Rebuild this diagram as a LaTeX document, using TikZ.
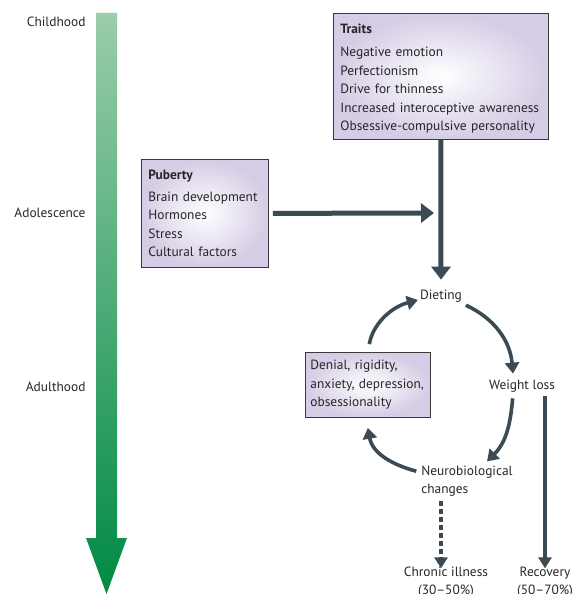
\documentclass[tikz,border=0pt]{standalone}
\usepackage{fontspec}
\setmainfont{PT Sans}
\usetikzlibrary{arrows.meta,positioning}
\definecolor{CycleArrow}{HTML}{3B4A53}
\definecolor{BoxEdge}{HTML}{3A3A3A}
\definecolor{BoxFill}{HTML}{D5CCE5}
\definecolor{AgeTop}{HTML}{9ACDAB}
\definecolor{AgeBottom}{HTML}{008A44}
\definecolor{AgeText}{HTML}{262626}

\begin{document}
\begin{tikzpicture}[x=1pt,y=-1pt,
  font=\fontsize{13.4}{18.5}\selectfont,
  factor/.style={draw=BoxEdge,line width=.8pt,inner color=white,outer color=BoxFill,
    text=AgeText,align=left,anchor=north west,inner xsep=7pt,inner ysep=6pt},
  stage/.style={anchor=east,text=AgeText},
  cycletext/.style={text=AgeText,align=left,inner sep=2pt},
  flow/.style={-{Triangle[length=13pt,width=19pt]},draw=CycleArrow,line width=5pt},
  turn/.style={-{Triangle[length=11pt,width=14pt]},draw=CycleArrow,line width=3.6pt},
  outcome/.style={-{Triangle[length=11pt,width=13pt]},draw=CycleArrow,line width=3.6pt}
]
\clip (0,0) rectangle (577,594);

% age axis
\shade[top color=AgeTop,bottom color=AgeBottom]
  (96,13) -- (117,13) -- (117,538) -- (127,538) -- (106.5,594) -- (86,538) -- (96,538) -- cycle;
\node[stage] (childhood) at (89,22) {Childhood};
\node[stage] (adolescence) at (89,213) {Adolescence};
\node[stage] (adulthood) at (89,387) {Adulthood};

% risk boxes
\node[factor,minimum width=215pt,minimum height=124pt,text width=201pt] (traits) at (333,13)
  {\rule{0pt}{14pt}\textbf{Traits}\\[5pt]
   Negative emotion\\
   Perfectionism\\
   Drive for thinness\\
   Increased interoceptive awareness\\
   Obsessive-compulsive personality};
\node[factor,minimum width=127pt,minimum height=108pt,text width=113pt] (puberty) at (141,159)
  {\textbf{Puberty}\\[3pt]
   Brain development\\
   Hormones\\
   Stress\\
   Cultural factors};
\coordinate (merge) at (434,213);

% the cycle
\node[cycletext] (dieting) at (441,296) {Dieting};
\node[cycletext] (weightloss) at (522,386) {Weight loss};
\node[cycletext] (neuro) at (467,481) {Neurobiological\\changes};
\node[factor,minimum width=125pt,minimum height=65pt,text width=115pt,inner xsep=5pt] (denial) at (305,352)
  {Denial, rigidity,\\anxiety, depression,\\obsessionality};

% outcomes
\node[cycletext,align=center] (chronic) at (446,582) {Chronic illness\\(30--50\%)};
\node[cycletext,align=center] (recovery) at (545,582) {Recovery\\(50--70\%)};

\draw[flow] (traits.south) -- ([yshift=8pt]dieting.north);
\draw[flow,shorten <=4pt] (puberty.east) -- (merge);

\draw[turn,shorten <=2pt] (dieting.south east) to[out=-25,in=95] ([xshift=-9pt,yshift=4pt]weightloss.north);
\draw[turn,shorten <=4pt] ([xshift=-9pt]weightloss.south) to[out=-95,in=45] ([xshift=20pt,yshift=2pt]neuro.north);
\draw[turn,shorten <=3pt] ([yshift=9pt]neuro.west) to[out=165,in=-80] ([yshift=-10pt]denial.south);
\draw[turn,shorten <=8pt] (denial.north) to[out=80,in=195] ([yshift=-4pt]dieting.west);

\draw[outcome,dash pattern=on 5pt off 3pt] ([xshift=-26pt,yshift=-2pt]neuro.south) -- ([xshift=-5pt,yshift=-4pt]chronic.north);
\draw[outcome] (weightloss.south -| recovery.north) ++(0,2) -- ([yshift=-4pt]recovery.north);
\end{tikzpicture}
\end{document}
